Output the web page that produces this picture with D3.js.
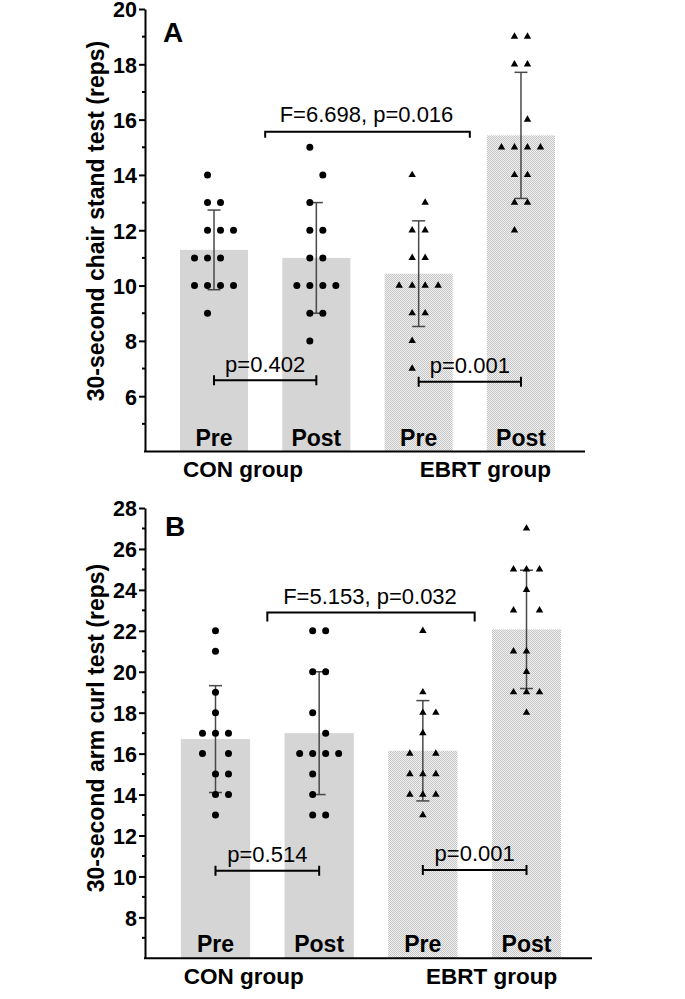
<!DOCTYPE html>
<html>
<head>
<meta charset="utf-8">
<script src="https://cdn.jsdelivr.net/npm/d3@7/dist/d3.min.js"></script>
<style>
  html, body { margin: 0; padding: 0; background: #fff; }
  svg { display: block; font-family: "Liberation Sans", Arial, Helvetica, sans-serif; }
</style>
</head>
<body>
<svg id="chart" width="685" height="999"></svg>
<script>
// ---------------- DATA ----------------
const categories = ["CON Pre", "CON Post", "EBRT Pre", "EBRT Post"];
const barLabels = ["Pre", "Post", "Pre", "Post"];
const groupLabels = ["CON group", "EBRT group"];

// Panel A: 30-second chair stand test
const chairMeans = [11.29, 11.00, 10.43, 15.43];
const chairSD = [1.44, 2.00, 1.91, 2.28];
// individual points: [value, column slot]
const chairPoints = [
  [[14,-0.5],[13,-0.5],[13,0.5],[12,-0.5],[12,0.5],[12,1.5],[11,-1.5],[11,-0.5],[11,0.5],[10,-1.5],[10,-0.5],[10,0.5],[10,1.5],[9,-0.5]],
  [[15,-0.5],[14,0.5],[13,-0.5],[12,-0.5],[12,0.5],[11,-0.5],[11,0.5],[10,-1.5],[10,-0.5],[10,0.5],[10,1.5],[9,-0.5],[9,0.5],[8,-0.5]],
  [[14,-0.5],[13,0.5],[12,-0.5],[12,0.5],[11,-0.5],[11,0.5],[10,-1.5],[10,-0.5],[10,0.5],[10,1.5],[9,-0.5],[9,0.5],[8,-0.5],[7,-0.5]],
  [[19,-0.5],[19,0.5],[18,-0.5],[18,0.5],[16,0.5],[15,-1.5],[15,-0.5],[15,0.5],[15,1.5],[14,-0.5],[14,0.5],[13,-0.5],[13,0.5],[12,-0.5]]
];
const chairTicks = [6, 8, 10, 12, 14, 16, 18, 20];
const chairMinorTicks = [5, 7, 9, 11, 13, 15, 17, 19];
const chairDomain = [4, 20];
const chairTitle = "30-second chair stand test (reps)";
const chairF = "F=6.698, p=0.016";
const chairP = ["p=0.402", "p=0.001"];

// Panel B: 30-second arm curl test
const armMeans = [16.71, 17.00, 16.14, 22.07];
const armSD = [2.61, 3.00, 2.45, 2.89];
const armPoints = [
  [[22,0],[21,0],[19,0],[18,0],[17,-1],[17,0],[17,1],[16,-1],[16,1],[15,0],[15,1],[14,0],[14,1],[13,0]],
  [[22,-0.5],[22,0.5],[20,-0.5],[20,0.5],[18,-0.5],[17,0.5],[16,-1.5],[16,-0.5],[16,0.5],[16,1.5],[15,-0.5],[14,-0.5],[13,-0.5],[13,0.5]],
  [[22,0],[19,0],[18,0],[18,1],[17,0],[16,-1],[16,1],[15,-1],[15,0],[15,1],[14,-1],[14,0],[14,1],[13,0]],
  [[27,0],[25,-1],[25,0],[25,1],[24,0],[23,-1],[23,1],[21,-1],[21,0],[20,0],[19,-1],[19,0],[19,1],[18,0]]
];
const armTicks = [8, 10, 12, 14, 16, 18, 20, 22, 24, 26, 28];
const armMinorTicks = [7, 9, 11, 13, 15, 17, 19, 21, 23, 25, 27];
const armDomain = [6, 28];
const armTitle = "30-second arm curl test (reps)";
const armF = "F=5.153, p=0.032";
const armP = ["p=0.514", "p=0.001"];

// ---------------- DRAWING ----------------
const svg = d3.select("#chart");
const defs = svg.append("defs");
const pat = defs.append("pattern").attr("id", "chk")
  .attr("width", 2).attr("height", 2).attr("patternUnits", "userSpaceOnUse");
pat.append("rect").attr("width", 2).attr("height", 2).attr("fill", "#f2f2f2");
pat.append("rect").attr("width", 1).attr("height", 1).attr("fill", "#c4c4c4");
pat.append("rect").attr("x", 1).attr("y", 1).attr("width", 1).attr("height", 1).attr("fill", "#c4c4c4");

function panel(cfg) {
  const g = svg.append("g");
  const y = d3.scaleLinear().domain(cfg.domain).range([cfg.yBottom, cfg.yTop]);
  const x = d3.scaleBand().domain(categories)
    .range([cfg.xLeft, cfg.xRight]).paddingInner(cfg.padIn).paddingOuter(cfg.padOut);
  const bw = x.bandwidth();
  const cx = c => x(c) + bw / 2;
  const slotW = 13;

  // bars
  g.selectAll("rect.bar").data(categories).enter().append("rect")
    .attr("x", c => x(c)).attr("width", bw)
    .attr("y", (c, i) => y(cfg.means[i]))
    .attr("height", (c, i) => y(cfg.domain[0]) - y(cfg.means[i]))
    .attr("fill", (c, i) => i < 2 ? "#d5d5d5" : "url(#chk)");

  // bar labels
  g.selectAll("text.bl").data(categories).enter().append("text")
    .attr("x", c => cx(c)).attr("y", cfg.yBottom - 6)
    .attr("text-anchor", "middle").attr("font-weight", "bold").attr("font-size", 23)
    .text((c, i) => barLabels[i]);

  // error bars
  categories.forEach((c, i) => {
    const hi = y(cfg.means[i] + cfg.sd[i]), lo = y(cfg.means[i] - cfg.sd[i]);
    const xc = cx(c);
    const eg = g.append("g").attr("stroke", "#484848").attr("stroke-width", 1.5);
    eg.append("line").attr("x1", xc).attr("x2", xc).attr("y1", hi).attr("y2", lo);
    eg.append("line").attr("x1", xc - 6.5).attr("x2", xc + 6.5).attr("y1", hi).attr("y2", hi);
    eg.append("line").attr("x1", xc - 6.5).attr("x2", xc + 6.5).attr("y1", lo).attr("y2", lo);
  });

  // points
  categories.forEach((c, i) => {
    const pts = cfg.points[i];
    if (i < 2) {
      g.selectAll(null).data(pts).enter().append("circle")
        .attr("cx", d => cx(c) + d[1] * slotW).attr("cy", d => y(d[0]))
        .attr("r", 3.5).attr("fill", "#000");
    } else {
      const tri = d3.symbol().type(d3.symbolTriangle).size(24);
      g.selectAll(null).data(pts).enter().append("path")
        .attr("d", tri)
        .attr("transform", d => `translate(${cx(c) + d[1] * slotW},${y(d[0])})`)
        .attr("fill", "#000");
    }
  });

  // axes
  const ax = g.append("g").attr("transform", `translate(${cfg.xLeft},0)`)
    .call(d3.axisLeft(y).tickValues(cfg.ticks).tickSize(6).tickSizeOuter(0).tickPadding(2));
  ax.select(".domain").attr("stroke", "#000").attr("stroke-width", 2);
  ax.selectAll(".tick line").attr("stroke", "#000").attr("stroke-width", 2);
  ax.selectAll(".tick text").attr("font-size", 21.5).attr("font-weight", "bold")
    .attr("dy", "0.37em")
    .attr("fill", "#000").attr("font-family", "Liberation Sans, Arial, sans-serif");
  g.selectAll("line.minor").data(cfg.minor).enter().append("line")
    .attr("x1", cfg.xLeft - 3).attr("x2", cfg.xLeft)
    .attr("y1", d => y(d)).attr("y2", d => y(d))
    .attr("stroke", "#000").attr("stroke-width", 2);
  g.append("line").attr("x1", cfg.xLeft - 1).attr("x2", cfg.axisEnd)
    .attr("y1", cfg.yBottom).attr("y2", cfg.yBottom)
    .attr("stroke", "#000").attr("stroke-width", 2);

  // y title
  g.append("text")
    .attr("transform", `translate(${cfg.titleX},${cfg.titleY}) rotate(-90)`)
    .attr("text-anchor", "middle").attr("font-weight", "bold").attr("font-size", 23)
    .text(cfg.title);

  // panel letter
  g.append("text").attr("x", cfg.letterX).attr("y", cfg.letterY)
    .attr("font-weight", "bold").attr("font-size", 28).text(cfg.letter);

  // group labels
  g.append("text").attr("x", x(categories[0]) + 3).attr("y", cfg.groupY)
    .attr("font-weight", "bold").attr("font-size", 22.5).attr("text-anchor", "start")
    .text(groupLabels[0]);
  g.append("text").attr("x", x(categories[3]) + bw - 4).attr("y", cfg.groupY)
    .attr("font-weight", "bold").attr("font-size", 22.5).attr("text-anchor", "end")
    .text(groupLabels[1]);

  // F bracket
  const fx1 = (cx(categories[0]) + cx(categories[1])) / 2;
  const fx2 = (cx(categories[2]) + cx(categories[3])) / 2;
  const fy = y(cfg.fLevel);
  g.append("path")
    .attr("d", `M${fx1},${fy + cfg.fDrop}V${fy}H${fx2}V${fy + cfg.fDrop}`)
    .attr("fill", "none").attr("stroke", "#000").attr("stroke-width", 2);
  g.append("text").attr("x", (fx1 + fx2) / 2 - 1).attr("y", fy - cfg.fGap)
    .attr("text-anchor", "middle").attr("font-size", 22).text(cfg.fText);

  // p brackets
  [[0, 1], [2, 3]].forEach((pair, k) => {
    const x1 = cx(categories[pair[0]]), x2 = cx(categories[pair[1]]);
    const py = y(cfg.pLevel[k]);
    g.append("path")
      .attr("d", `M${x1},${py - 5}V${py + 5}M${x1},${py}H${x2}M${x2},${py - 5}V${py + 5}`)
      .attr("fill", "none").attr("stroke", "#000").attr("stroke-width", 2);
    g.append("text").attr("x", (x1 + x2) / 2).attr("y", py - 8.5)
      .attr("text-anchor", "middle").attr("font-size", 22).text(cfg.pText[k]);
  });
}

panel({
  domain: chairDomain, yTop: 9, yBottom: 451.5,
  xLeft: 145, xRight: 590, padIn: 0.335, padOut: 0.342, axisEnd: 585,
  means: chairMeans, sd: chairSD, points: chairPoints,
  ticks: chairTicks, minor: chairMinorTicks,
  title: chairTitle, titleX: 104, titleY: 221,
  letter: "A", letterX: 163, letterY: 41.5, groupY: 477,
  fLevel: 15.56, fDrop: 6, fGap: 10, fText: chairF,
  pLevel: [6.58, 6.52], pText: chairP
});

panel({
  domain: armDomain, yTop: 508, yBottom: 958.3,
  xLeft: 145, xRight: 597, padIn: 0.332, padOut: 0.346, axisEnd: 592,
  means: armMeans, sd: armSD, points: armPoints,
  ticks: armTicks, minor: armMinorTicks,
  title: armTitle, titleX: 104, titleY: 728,
  letter: "B", letterX: 165, letterY: 535.5, groupY: 984,
  fLevel: 22.89, fDrop: 9, fGap: 8.7, fText: armF,
  pLevel: [10.28, 10.32], pText: armP
});
</script>
</body>
</html>
